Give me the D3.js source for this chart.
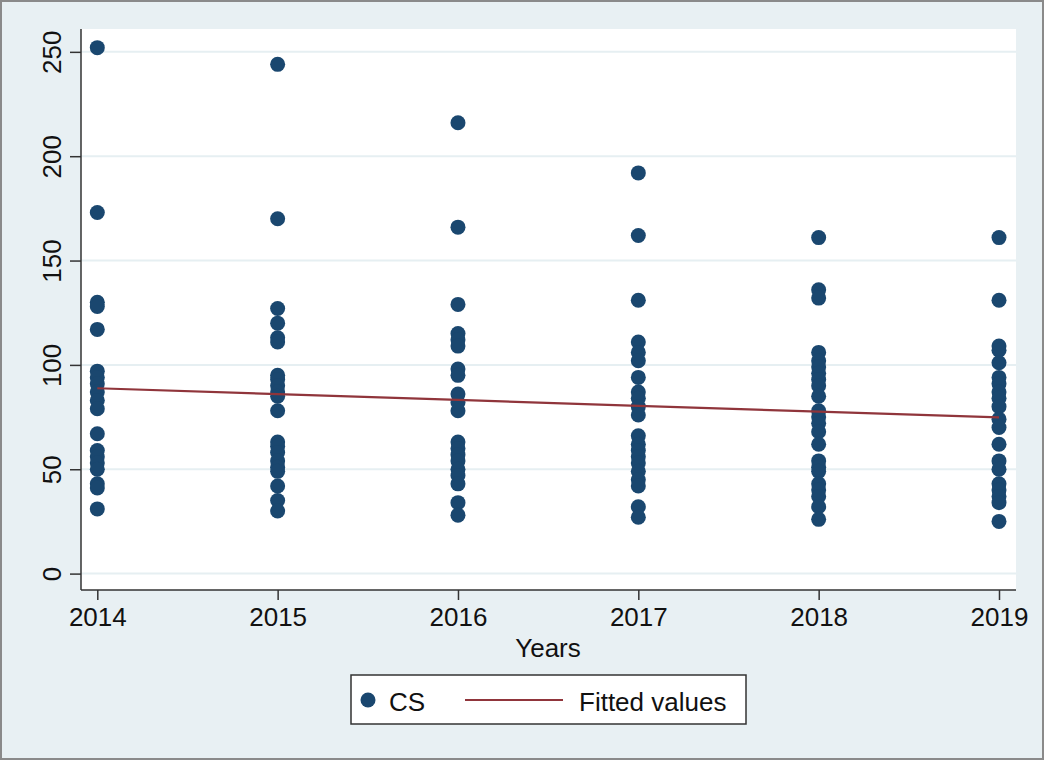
<!DOCTYPE html>
<html>
<head>
<meta charset="utf-8">
<script src="https://cdn.jsdelivr.net/npm/d3@7"></script>
<style>
  html, body { margin: 0; padding: 0; background: #fff; }
  svg { display: block; font-family: "Liberation Sans", Arial, Helvetica, sans-serif; }
</style>
</head>
<body>
<svg id="chart" width="1045" height="761"></svg>
<script>
// values
const years = [2014, 2015, 2016, 2017, 2018, 2019];
const cs2014 = [252, 173, 130, 128, 117, 97, 94, 91, 87, 83, 79, 67, 59, 56, 53, 50, 43, 41, 31];
const cs2015 = [244, 170, 127, 120, 113, 111, 95, 93, 90, 87, 85, 78, 63, 61, 58, 54, 51, 49, 42, 35, 30];
const cs2016 = [216, 166, 129, 115, 112, 109, 98, 95, 86, 82, 78, 63, 60, 57, 54, 50, 47, 43, 34, 28];
const cs2017 = [192, 162, 131, 111, 106, 102, 94, 87, 84, 80, 76, 66, 62, 59, 56, 53, 49, 45, 42, 32, 27];
const cs2018 = [161, 136, 132, 106, 102, 99, 96, 93, 90, 85, 78, 75, 72, 68, 62, 54, 51, 49, 43, 40, 37, 32, 26];
const cs2019 = [161, 131, 109, 107, 101, 94, 91, 87, 84, 80, 74, 70, 62, 54, 50, 43, 40, 37, 34, 25];
const fitted = [88.8, 86.0, 83.2, 80.4, 77.6, 74.9];
const yTicks = [0, 50, 100, 150, 200, 250];

const csByYear = [cs2014, cs2015, cs2016, cs2017, cs2018, cs2019];
const points = years.flatMap((yr, i) => csByYear[i].map(v => ({ year: yr, value: v })));
const fitData = years.map((yr, i) => ({ year: yr, value: fitted[i] }));

const W = 1045, H = 761;
const plot = { l: 81, r: 1016, t: 29, b: 590 };
const BG = '#e8f0f3', NAVY = '#1a476f', RED = '#90353b';
const FS = 26;

const svg = d3.select('#chart');

// outer background + frame
svg.append('rect')
  .attr('x', 1).attr('y', 1).attr('width', W - 3).attr('height', H - 3)
  .attr('fill', BG).attr('stroke', '#8a8a8a').attr('stroke-width', 2);

// plot region
svg.append('rect')
  .attr('x', plot.l).attr('y', plot.t)
  .attr('width', plot.r - plot.l).attr('height', plot.b - plot.t)
  .attr('fill', '#fff');

const x = d3.scaleLinear().domain([2014, 2019]).range([97.3, 999]);
const y = d3.scaleLinear().domain([0, 250]).range([573.6, 51.85]);

// gridlines
svg.append('g').selectAll('line')
  .data(yTicks)
  .join('line')
    .attr('x1', plot.l).attr('x2', plot.r)
    .attr('y1', d => y(d)).attr('y2', d => y(d))
    .attr('stroke', '#e6eff2').attr('stroke-width', 2);

// scatter
svg.append('g').selectAll('circle')
  .data(points)
  .join('circle')
    .attr('cx', d => x(d.year))
    .attr('cy', d => y(d.value))
    .attr('r', 7.5)
    .attr('fill', NAVY);

// fitted line
const line = d3.line().x(d => x(d.year)).y(d => y(d.value));
svg.append('path').datum(fitData)
  .attr('fill', 'none').attr('stroke', RED).attr('stroke-width', 2.2)
  .attr('d', line);

// y axis
const yAxis = svg.append('g')
  .attr('transform', `translate(${plot.l},0)`)
  .call(d3.axisLeft(y).tickValues(yTicks).tickSize(11).tickSizeOuter(0));
yAxis.select('.domain').attr('d', `M0,${plot.t}V${plot.b}`).attr('stroke', '#333').attr('stroke-width', 1.5);
yAxis.selectAll('.tick line').attr('stroke', '#333').attr('stroke-width', 1.5);
yAxis.selectAll('.tick text')
  .attr('x', 0).attr('dy', 0)
  .attr('transform', 'translate(-20,0) rotate(-90)')
  .attr('text-anchor', 'middle')
  .attr('font-size', FS).attr('fill', '#111')
  .attr('font-family', '"Liberation Sans", Arial, sans-serif');

// x axis
const xAxis = svg.append('g')
  .attr('transform', `translate(0,${plot.b})`)
  .call(d3.axisBottom(x).tickValues(years).tickFormat(d3.format('d')).tickSize(10).tickSizeOuter(0).tickPadding(8));
xAxis.select('.domain').attr('d', `M${plot.l},0H${plot.r}`).attr('stroke', '#333').attr('stroke-width', 1.5);
xAxis.selectAll('.tick line').attr('stroke', '#333').attr('stroke-width', 1.5);
xAxis.selectAll('.tick text')
  .attr('font-size', FS).attr('fill', '#111')
  .attr('font-family', '"Liberation Sans", Arial, sans-serif');

svg.append('text')
  .attr('x', 548).attr('y', 657)
  .attr('text-anchor', 'middle')
  .attr('font-size', FS).attr('fill', '#111')
  .text('Years');

// legend
const lg = svg.append('g');
lg.append('rect')
  .attr('x', 351).attr('y', 675).attr('width', 395).attr('height', 49)
  .attr('fill', '#fff').attr('stroke', '#333').attr('stroke-width', 1.5);
lg.append('circle').attr('cx', 368).attr('cy', 700).attr('r', 7.5).attr('fill', NAVY);
lg.append('text').attr('x', 389).attr('y', 711)
  .attr('font-size', FS).attr('fill', '#111').text('CS');
lg.append('line')
  .attr('x1', 465).attr('x2', 563).attr('y1', 700).attr('y2', 700)
  .attr('stroke', RED).attr('stroke-width', 2.2);
lg.append('text').attr('x', 579).attr('y', 711)
  .attr('font-size', FS).attr('fill', '#111').text('Fitted values');
</script>
</body>
</html>
